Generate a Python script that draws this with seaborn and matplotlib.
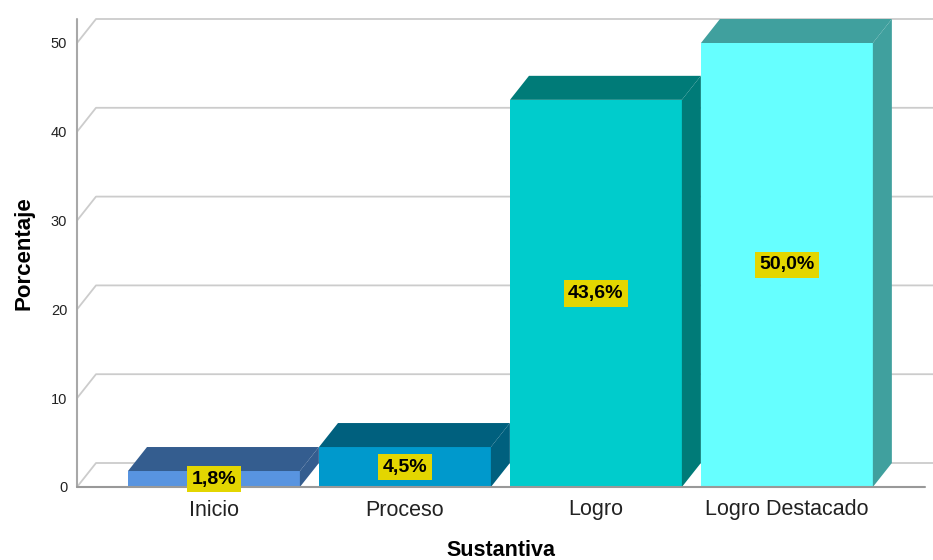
import matplotlib
matplotlib.use("Agg")
import matplotlib.pyplot as plt
from matplotlib.patches import Polygon
import seaborn as sns
import pandas as pd

# ---- data ----
categories = ["Inicio", "Proceso", "Logro", "Logro Destacado"]
values = [1.8, 4.5, 43.6, 50.0]
y_ticks = [0, 10, 20, 30, 40, 50]
x_label = "Sustantiva"
y_label = "Porcentaje"

# ---- style ----
front_colors = ["#5894E0", "#0099CC", "#00CCCC", "#66FFFF"]
dark_colors = ["#345D8F", "#00607E", "#007B78", "#40A09E"]
label_box = "#E3D600"
grid_col = "#CCCCCC"
axis_col = "#A8A8A8"

sns.set_style("white")
plt.rcParams["font.family"] = ["Liberation Sans", "DejaVu Sans"]

W, H = 933, 560
fig = plt.figure(figsize=(W / 100, H / 100), dpi=100)
ax_l, ax_r, ax_b, ax_t = 77, 925, 487, 43
ax = fig.add_axes([ax_l / W, (H - ax_b) / H, (ax_r - ax_l) / W, (ax_b - ax_t) / H])

df = pd.DataFrame({"cat": categories, "val": values})
sns.barplot(data=df, x="cat", y="val", hue="cat", palette=front_colors,
            order=categories, hue_order=categories, width=0.9, saturation=1,
            legend=False, edgecolor="none", linewidth=0, ax=ax, zorder=2)

xl = (-0.717, 3.723)
ax.set_xlim(*xl)
ax.set_ylim(0, 50)

# depth offset in data units (19 px right, 24 px up)
px_per_x = (ax_r - ax_l) / (xl[1] - xl[0])
px_per_y = (ax_b - ax_t) / 50.0
dx = 19 / px_per_x
dy = 24 / px_per_y

# back wall grid with diagonals
for t in y_ticks:
    ax.plot([xl[0], xl[0] + dx, xl[1] + dx + 1], [t, t + dy, t + dy],
            color=grid_col, lw=1.3, zorder=0.5, clip_on=False)
# front axis lines
ax.plot([xl[0], xl[0]], [0, 50 + dy], color=axis_col, lw=1.5, zorder=3, clip_on=False)
ax.plot([xl[0], xl[1]], [0, 0], color="#999999", lw=1.5, zorder=3, clip_on=False)

# 3D faces
bars = [p for p in ax.patches]
for i, p in enumerate(bars):
    x0 = p.get_x()
    x1 = x0 + p.get_width()
    h = p.get_height()
    top = Polygon([(x0, h), (x1, h), (x1 + dx, h + dy), (x0 + dx, h + dy)],
                  closed=True, fc=dark_colors[i], ec="none", zorder=2, clip_on=False)
    side = Polygon([(x1, 0), (x1, h), (x1 + dx, h + dy), (x1 + dx, dy)],
                   closed=True, fc=dark_colors[i], ec="none", zorder=2, clip_on=False)
    ax.add_patch(side)
    ax.add_patch(top)
    txt = f"{values[i]:.1f}".replace(".", ",") + "%"
    ax.text(x0 + p.get_width() / 2, h / 2, txt, ha="center", va="center",
            fontsize=14, fontweight="bold", color="black", zorder=6, clip_on=False,
            bbox=dict(boxstyle="square,pad=0.24", fc=label_box, ec="none"))

for s in ax.spines.values():
    s.set_visible(False)

ax.set_yticks(y_ticks)
ax.set_yticklabels([str(t) for t in y_ticks])
ax.tick_params(axis="y", length=0, pad=7, labelsize=10.5, labelcolor="#222222")
ax.tick_params(axis="x", length=0, pad=9, labelsize=15.5, labelcolor="#222222")
ax.grid(False)

ax.set_xlabel(x_label, fontsize=15.5, fontweight="bold", color="black")
ax.set_ylabel(y_label, fontsize=16, fontweight="bold", color="black")
ax.xaxis.set_label_coords(0.5, (ax_b - 540) / (ax_b - ax_t))
ax.xaxis.label.set_va("top")
ax.yaxis.set_label_coords((34 - ax_l) / (ax_r - ax_l), (ax_b - 253) / (ax_b - ax_t))

fig.savefig("out.png", dpi=100)
